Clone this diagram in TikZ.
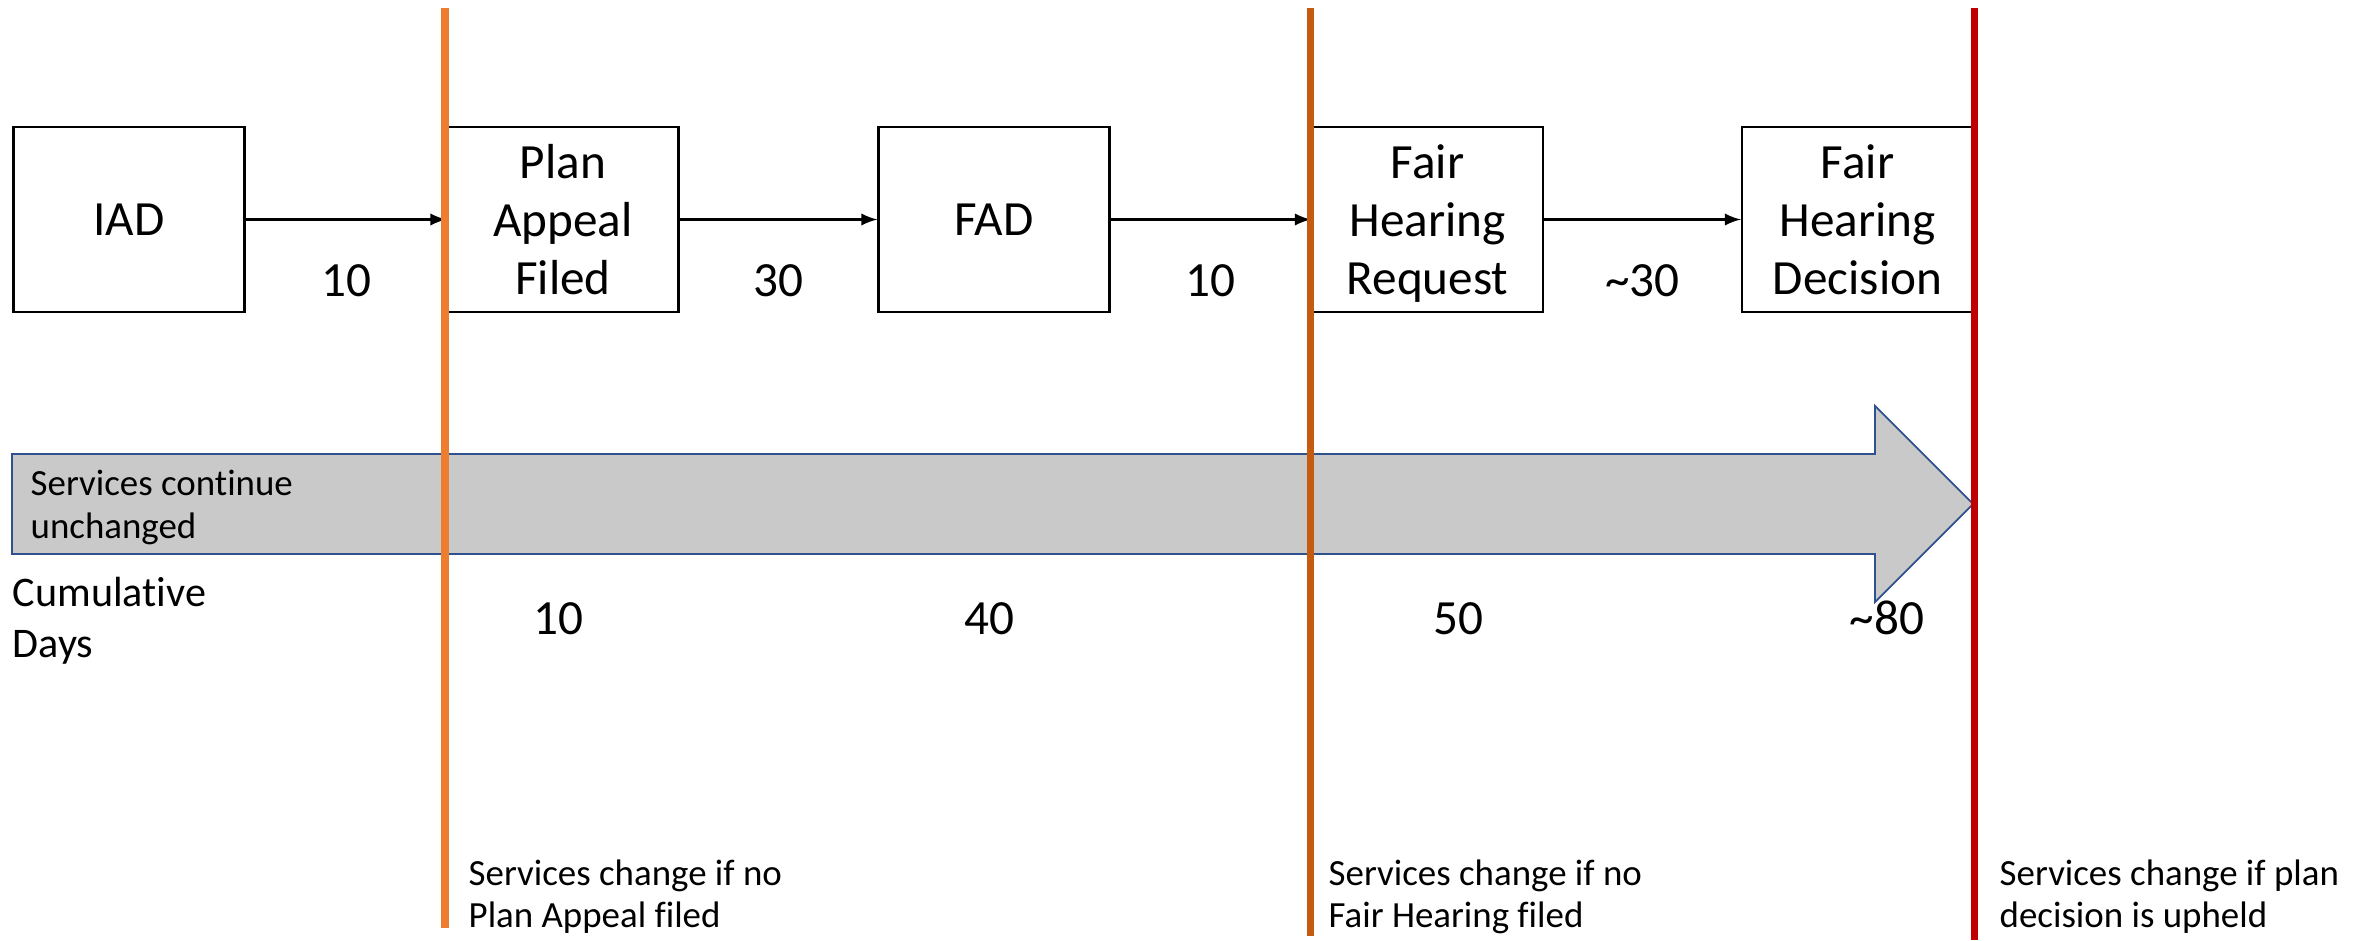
\documentclass[tikz,border=0pt]{standalone}
\usepackage{fontspec}
\setmainfont{Carlito}[Ligatures=NoCommon]
\usepackage{xcolor}
\usepackage{tikz}
\usetikzlibrary{calc}

\definecolor{planorange}{HTML}{ED7D31}
\definecolor{fairorange}{HTML}{C55A11}
\definecolor{decisionred}{HTML}{C00000}
\definecolor{arrowgray}{HTML}{C9C9C9}
\definecolor{arrowblue}{HTML}{2F528F}

\tikzset{
    stage/.style={draw=black,line width=0.6pt,minimum width=2.31cm,minimum height=1.85cm,
        inner sep=0pt,text depth=0pt,align=center,font=\fontsize{14}{16.5}\selectfont},
    days/.style={font=\fontsize{14}{16.5}\selectfont},
    note/.style={anchor=north west,inner sep=0pt,align=left,font=\fontsize{10.5}{12}\selectfont},
    cutoff/.style={line width=2pt}
}

\begin{document}
\begin{tikzpicture}
            \useasboundingbox (0,0) rectangle (23.67,9.40);

            %%% COORDINATES %%%
            \draw (4.45,9.32) coordinate (t1);
            \draw (4.45,0.12) coordinate (b1);
            \draw (13.10,9.32) coordinate (t2);
            \draw (13.10,0.04) coordinate (b2);
            \draw (19.74,9.32) coordinate (t3);
            \draw (19.74,0) coordinate (b3);

            %%% SERVICES ARROW %%%
            \draw[draw=arrowblue,fill=arrowgray,line width=0.5pt] (0.12,3.86)--(18.75,3.86)--(18.75,3.38)--(19.73,4.36)--(18.75,5.34)--(18.75,4.86)--(0.12,4.86)--cycle;
            \node[note,font=\fontsize{10.5}{12.4}\selectfont] (cont) at (0.30,4.71) {Services continue\\unchanged};

            %%% STAGES %%%
            \node[stage] (iad) at (1.29,7.205) {IAD};
            \node[stage] (plan) at (5.63,7.205) {Plan\\Appeal\\Filed};
            \node[stage] (fad) at (9.94,7.205) {FAD};
            \node[stage] (fhr) at (14.275,7.205) {Fair\\Hearing\\Request};
            \node[stage] (fhd) at (18.575,7.205) {Fair\\Hearing\\Decision};

            \draw[line width=0.6pt,-latex] (iad)--node[days,yshift=-0.61cm]{10}(plan);
            \draw[line width=0.6pt,-latex] (plan)--node[days,yshift=-0.61cm]{30}(fad);
            \draw[line width=0.6pt,-latex] (fad)--node[days,yshift=-0.61cm]{10}(fhr);
            \draw[line width=0.6pt,-latex] (fhr)--node[days,yshift=-0.61cm]{\textasciitilde 30}(fhd);

            %%% CUMULATIVE DAYS %%%
            \node[note,font=\fontsize{12}{14.5}\selectfont] (cum) at (0.12,3.63) {Cumulative\\Days};
            \node[days,anchor=base] (cum1) at (5.58,3.06) {10};
            \node[days,anchor=base] (cum2) at (9.89,3.06) {40};
            \node[days,anchor=base] (cum3) at (14.58,3.06) {50};
            \node[days,anchor=base] (cum4) at (18.87,3.06) {\textasciitilde 80};

            %%% CUT-OFF LINES %%%
            \draw[cutoff,draw=planorange] (t1)--(b1);
            \draw[cutoff,draw=fairorange] (t2)--(b2);
            \draw[cutoff,draw=decisionred] (t3)--(b3);

            \node[note] (n1) at (4.68,0.81) {Services change if no\\Plan Appeal filed};
            \node[note] (n2) at (13.28,0.81) {Services change if no\\Fair Hearing filed};
            \node[note] (n3) at (19.99,0.81) {Services change if plan\\decision is upheld};
        \end{tikzpicture}
\end{document}
